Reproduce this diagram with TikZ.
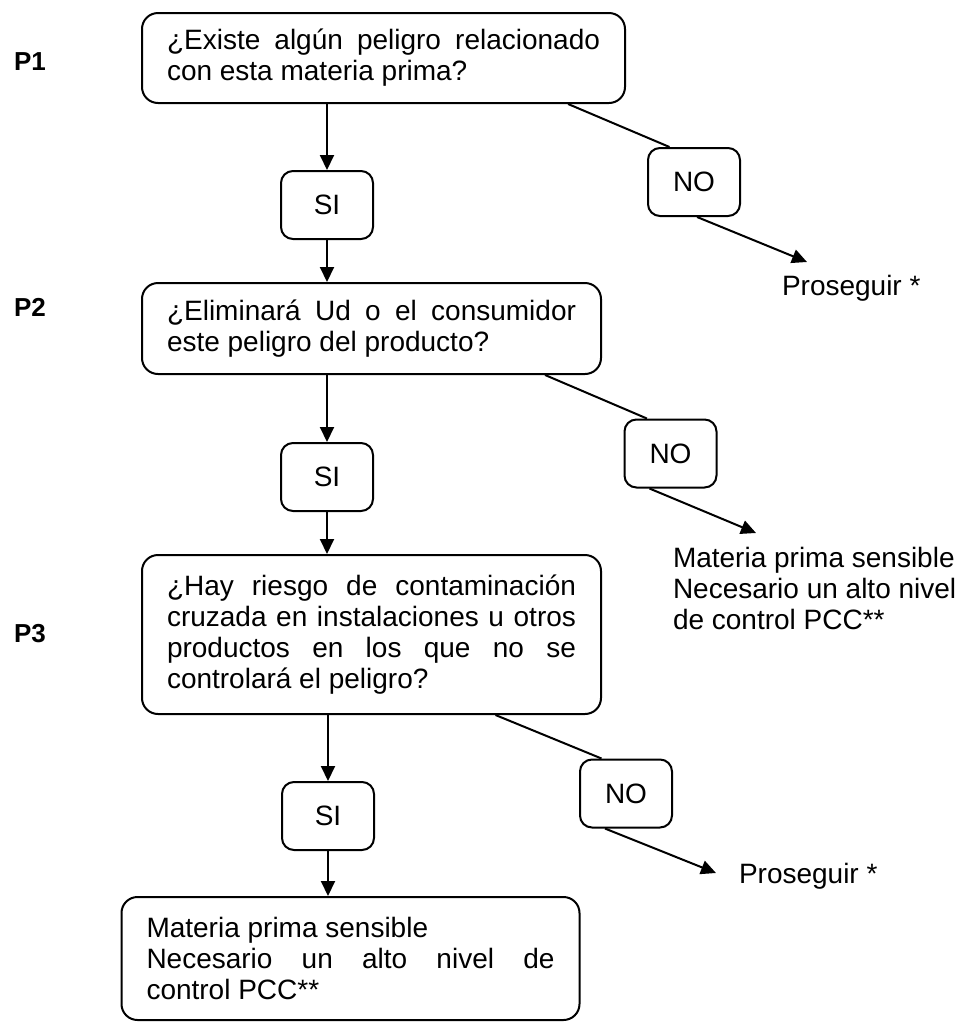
\documentclass[tikz,border=0pt]{standalone}
\usepackage{fontspec}
\setmainfont{Liberation Sans}
\usetikzlibrary{arrows.meta}

\begin{document}
\begin{tikzpicture}[x=0.5pt, y=-0.5pt, line width=1pt, >={Triangle[length=7.5pt, width=7pt]},
    pregunta/.style={draw, rounded corners=8pt, align=justify, inner xsep=12.5pt, inner ysep=0pt, font=\fontsize{14}{15.5}\selectfont},
    respuesta/.style={draw, rounded corners=6pt, minimum width=46pt, minimum height=34pt, inner sep=0pt, font=\fontsize{14}{15.5}\selectfont},
    texto/.style={inner sep=0pt, align=left, font=\fontsize{14}{15.5}\selectfont},
    paso/.style={inner sep=0pt, font=\fontsize{13}{15}\selectfont\bfseries}]
        \useasboundingbox (0, 0) rectangle (969, 1029);

        \node[paso, anchor=base west] (p1) at (13, 70) {P1};
        \node[paso, anchor=base west] (p2) at (13, 316) {P2};
        \node[paso, anchor=base west] (p3) at (13, 642) {P3};

        \node[pregunta, text width=216.5pt, minimum height=45pt] (q1) at (383.5, 58) {¿Existe algún peligro relacionado\linebreak con esta materia prima?};
        \node[pregunta, text width=204.5pt, minimum height=45.5pt] (q2) at (371.5, 328.5) {¿Eliminará Ud o el consumidor\linebreak este peligro del producto?};
        \node[pregunta, text width=204.5pt, minimum height=79.5pt] (q3) at (371.5, 634.5) {¿Hay riesgo de contaminación\linebreak cruzada en instalaciones u otros\linebreak productos en los que no se\linebreak controlará el peligro?};
        \node[pregunta, text width=204pt, minimum height=61.5pt] (q4) at (350.5, 958.5) {Materia prima sensible\\ Necesario un alto nivel de\linebreak control PCC**};

        \node[respuesta] (si1) at (327, 205) {SI};
        \node[respuesta] (si2) at (327, 477) {SI};
        \node[respuesta] (si3) at (328, 816) {SI};
        \node[respuesta] (no1) at (694, 182) {NO};
        \node[respuesta] (no2) at (670.5, 453.5) {NO};
        \node[respuesta] (no3) at (626, 793.5) {NO};

        \node[texto, anchor=base west] (r1) at (781, 295) {Proseguir *};
        \node[texto, anchor=west] (r2) at (672, 588) {Materia prima sensible\\ Necesario un alto nivel\\ de control PCC**};
        \node[texto, anchor=base west] (r3) at (738, 883) {Proseguir *};
        \coordinate (f1) at (807, 262);
        \coordinate (f2) at (756, 533);
        \coordinate (f3) at (716, 873);

        \draw[->] (si1 |- q1.south) -- (si1.north);
        \draw[->] (si1.south) -- (si1.south |- q2.north);
        \draw[->] (si2 |- q2.south) -- (si2.north);
        \draw[->] (si2.south) -- (si2.south |- q3.north);
        \draw[->] (si3 |- q3.south) -- (si3.north);
        \draw[->] (si3.south) -- (si3.south |- q4.north);

        \draw (q1.-14.5) -- (no1.125);
        \draw[->] (no1.-85) -- (f1);
        \draw (q2.-15.6) -- (no2.124);
        \draw[->] (no2.-121) -- (f2);
        \draw (q3.-33.6) -- (no3.125);
        \draw[->] (no3.-121) -- (f3);
    \end{tikzpicture}
\end{document}
